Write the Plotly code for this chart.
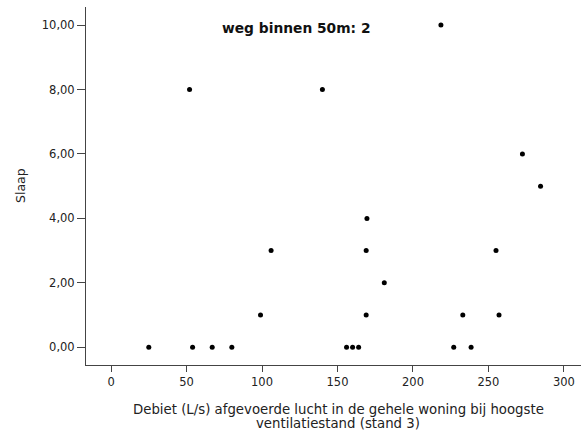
import plotly.graph_objects as go

debiet = [25, 54, 67, 80, 99, 106, 52, 140, 156, 160, 164, 169, 169, 169.5,
          181, 218.5, 227, 233, 238.5, 255, 257, 272.5, 284.5]
slaap = [0, 0, 0, 0, 1, 3, 8, 8, 0, 0, 0, 1, 3, 4,
         2, 10, 0, 1, 0, 3, 1, 6, 5]
x_ticks = [0, 50, 100, 150, 200, 250, 300]
y_ticks = [0, 2, 4, 6, 8, 10]
title_text = "weg binnen 50m: 2"
x_title_lines = ["Debiet (L/s) afgevoerde lucht in de gehele woning bij hoogste",
                 "ventilatiestand (stand 3)"]
y_title = "Slaap"

FONT = "DejaVu Sans, Arial"

fig = go.Figure(go.Scatter(
    x=debiet, y=slaap, mode="markers",
    marker=dict(color="black", size=5, line=dict(width=0)),
    showlegend=False,
))

axis_common = dict(
    showgrid=False, zeroline=False, showline=True, linecolor="#444",
    linewidth=1, ticks="outside", tickcolor="#444",
    tickfont=dict(family=FONT, size=11.5, color="#222"),
)

annots = [
    dict(text="<b>" + title_text + "</b>", xref="paper", yref="paper",
         x=(296.5 - 86) / 495, y=(433 - 68 - 28) / 358, showarrow=False,
         xanchor="center", yanchor="middle",
         font=dict(family=FONT, size=13.8, color="#111")),
    dict(text=y_title, xref="paper", yref="paper",
         x=-(86 - 20) / 495, y=(365 - 186) / 358, showarrow=False,
         textangle=-90, xanchor="center", yanchor="middle",
         font=dict(family=FONT, size=12.5, color="#222")),
]
for i, line in enumerate(x_title_lines):
    annots.append(dict(
        text=line, xref="paper", yref="paper",
        x=(338 - 86) / 495, y=-(409.5 + 14 * i - 365) / 358, showarrow=False,
        xanchor="center", yanchor="middle",
        font=dict(family=FONT, size=13.3, color="#222")))

fig.update_layout(
    width=581, height=433,
    margin=dict(l=86, r=0, t=7, b=68),
    paper_bgcolor="white", plot_bgcolor="white",
    separators=",.",
    font=dict(family=FONT, color="#222"),
    xaxis=dict(range=[-16.6, 311.3], tickvals=x_ticks, ticklen=6, **axis_common),
    yaxis=dict(range=[-0.55, 10.56], tickvals=y_ticks, tickformat=".2f",
               ticklen=8, **axis_common),
    annotations=annots,
)

fig.write_html(
    "out.html",
    config={"displayModeBar": False},
    post_script="document.body.style.margin='0';document.body.style.padding='0';",
)
